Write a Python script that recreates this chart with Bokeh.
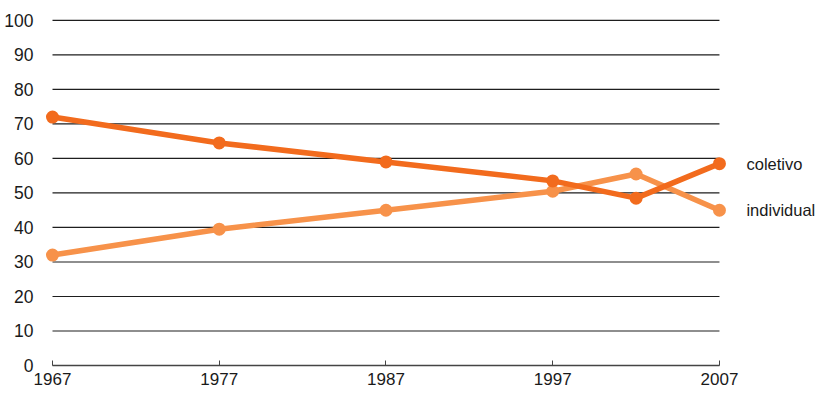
from bokeh.plotting import figure
from bokeh.models import Range1d, FixedTicker, ColumnDataSource
from bokeh.core.properties import value
from bokeh.embed import file_html
from bokeh.resources import INLINE

# Survey years and modal share (%) per transport mode
years = [1967, 1977, 1987, 1997, 2002, 2007]
coletivo = [72, 64.5, 59, 53.5, 48.5, 58.5]
individual = [32, 39.5, 45, 50.5, 55.5, 45]
x_ticks = [1967, 1977, 1987, 1997, 2007]
y_ticks = [0, 10, 20, 30, 40, 50, 60, 70, 80, 90, 100]

FONT = "Liberation Sans"
C_COL = "#F26B1D"
C_IND = "#F7924A"

# frame reaches the right edge so the series names fit inside it
p = figure(
    frame_width=776, frame_height=353,
    min_border_left=44, min_border_right=0, min_border_top=12, min_border_bottom=0,
    x_range=Range1d(1966.52, 2013.06), y_range=Range1d(0, 102.3),
    output_backend="svg", toolbar_location=None,
)
p.outline_line_color = None
p.xgrid.visible = False
p.ygrid.visible = False

# horizontal reference lines spanning the survey period
p.segment(x0=[x_ticks[0]] * len(y_ticks), x1=[x_ticks[-1]] * len(y_ticks),
          y0=y_ticks, y1=y_ticks, line_color="#1e1e1e", line_width=1.2)

# axes
p.xaxis.ticker = FixedTicker(ticks=x_ticks)
p.xaxis.bounds = (x_ticks[0], x_ticks[-1])
p.xaxis.axis_line_color = "#444444"
p.xaxis.axis_line_width = 1.5
p.xaxis.major_tick_in = 5
p.xaxis.major_tick_out = 0
p.xaxis.major_tick_line_color = "#444444"
p.xaxis.minor_tick_line_color = None
p.xaxis.major_label_standoff = 7
p.xaxis.major_label_text_font = FONT
p.xaxis.major_label_text_font_size = "17px"
p.xaxis.major_label_text_color = "#1a1a1a"

p.yaxis.ticker = FixedTicker(ticks=y_ticks)
p.yaxis.axis_line_color = None
p.yaxis.major_tick_line_color = None
p.yaxis.minor_tick_line_color = None
p.yaxis.major_label_standoff = 5
p.yaxis.major_label_text_font = FONT
p.yaxis.major_label_text_font_size = "17.5px"
p.yaxis.major_label_text_color = "#1a1a1a"

# series: individual beneath, coletivo on top
src_ind = ColumnDataSource(dict(x=years, y=individual))
src_col = ColumnDataSource(dict(x=years, y=coletivo))
p.line("x", "y", source=src_ind, line_color=C_IND, line_width=5.5, line_join="round")
p.scatter("x", "y", source=src_ind, size=13, fill_color=C_IND, line_color=None)
p.line("x", "y", source=src_col, line_color=C_COL, line_width=5.5, line_join="round")
p.scatter("x", "y", source=src_col, size=13, fill_color=C_COL, line_color=None)

# series names next to the last point
p.text(x=[years[-1], years[-1]], y=[coletivo[-1], individual[-1]],
       text=["coletivo", "individual"], x_offset=27,
       text_baseline="middle", text_align="left",
       text_font=value(FONT), text_font_size="16.5px", text_color="#1a1a1a")

open("out.html", "w").write(file_html(p, INLINE))
